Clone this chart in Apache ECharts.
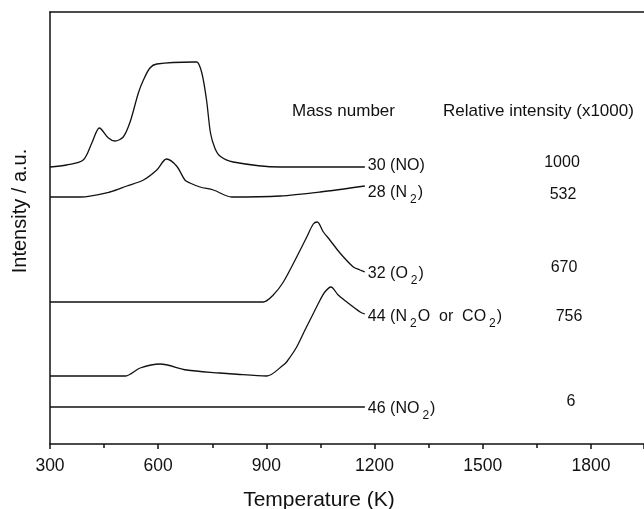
<!DOCTYPE html>
<html>
<head>
<meta charset="utf-8">
<script src="https://cdn.jsdelivr.net/npm/echarts@6/dist/echarts.min.js"></script>
<style>
html, body { margin: 0; padding: 0; background: #fff; }
#main { width: 644px; height: 509px; }
</style>
</head>
<body>
<div id="main"></div>
<script>
// temperature (K) / intensity (a.u., curves offset vertically)
var tNO = [300, 346, 392, 416, 437, 462, 480, 503, 522, 545, 559, 577, 596, 697, 707, 721, 734, 745, 757, 771, 808, 938, 1173]
var iNO = [277, 279, 284, 301, 316, 306, 303, 307, 322, 351, 364, 376, 380, 382, 382, 371, 344, 311, 296, 288, 282, 277, 277]

var tN2 = [300, 383, 466, 513, 559, 596, 623, 651, 674, 688, 716, 753, 804, 938, 1049, 1173]
var iN2 = [247, 247, 252, 258, 264, 274, 285, 278, 264, 261, 257, 254, 247, 248, 252, 258]

var tO2 = [300, 891, 919, 947, 984, 1012, 1030, 1041, 1058, 1076, 1104, 1141, 1160, 1173]
var iO2 = [142, 142, 149, 162, 187, 207, 220, 222, 212, 204, 191, 177, 174, 172]

var tN2O = [300, 508, 550, 605, 679, 771, 808, 901, 947, 956, 984, 1007, 1021, 1049, 1062, 1079, 1099, 1123, 1160, 1173]
var iN2O = [68, 68, 76, 80, 74, 71, 70, 68, 79, 82, 97, 114, 124, 144, 152, 157, 149, 142, 132, 130]

var tNO2 = [300, 1173]
var iNO2 = [37, 37]

// labels at the end of each curve (mass number)
var massLabels = [
  '{m|30 (NO)}',
  '{m|28 (N}{s|2}{m|)}',
  '{m|32 (O}{s|2}{m|)}',
  '{m|44 (N}{s|2}{m|O  or  CO}{s|2}{m|)}',
  '{m|46 (NO}{s|2}{m|)}'
]
var labelShift = [-1.5, 7, 1.5, 3, 1.5]
// relative intensity (x1000)
var relIntensity = ['1000', '532', '670', '756', '6']
var relPos = [[562, 163], [563, 195], [564, 268], [569, 317], [571, 402]]

var font = 'Liberation Sans, Arial, sans-serif'
var curves = [[tNO, iNO], [tN2, iN2], [tO2, iO2], [tN2O, iN2O], [tNO2, iNO2]]

function pairs(t, v) {
  var out = []
  for (var i = 0; i < t.length; i++) out.push([t[i], v[i]])
  return out
}

var myChart = echarts.init(document.getElementById('main'))

var series = curves.map(function (c, k) {
  return {
    type: 'line',
    data: pairs(c[0], c[1]),
    smooth: 0.3,
    showSymbol: false,
    lineStyle: { color: '#111', width: 1.3 },
    endLabel: {
      show: true,
      formatter: massLabels[k],
      distance: 3,
      offset: [0, labelShift[k]],
      fontFamily: font,
      rich: {
        m: { fontSize: 16, color: '#111', lineHeight: 26, fontFamily: font },
        s: { fontSize: 12, color: '#111', verticalAlign: 'bottom', padding: [0, 1, 0, 3], fontFamily: font }
      }
    }
  }
})

var texts = [
  { type: 'text', x: 292, y: 111, style: { text: 'Mass number', font: '17px ' + font, fill: '#111', verticalAlign: 'middle' } },
  { type: 'text', x: 443, y: 111, style: { text: 'Relative intensity (x1000)', font: '17px ' + font, fill: '#111', verticalAlign: 'middle' } },
  { type: 'text', x: 319, y: 500, style: { text: 'Temperature (K)', font: '21px ' + font, fill: '#111', align: 'center', verticalAlign: 'middle' } },
  { type: 'text', x: 20, y: 211, rotation: Math.PI / 2, style: { text: 'Intensity / a.u.', font: '20px ' + font, fill: '#111', align: 'center', verticalAlign: 'middle' } }
]
relIntensity.forEach(function (v, k) {
  texts.push({ type: 'text', x: relPos[k][0], y: relPos[k][1], style: { text: v, font: '16px ' + font, fill: '#111', align: 'center', verticalAlign: 'middle' } })
})

var axisLine = { show: true, lineStyle: { color: '#111', width: 1.5 } }

var option = {
  animation: false,
  backgroundColor: '#fff',
  grid: { left: 50, right: 0, top: 12, bottom: 65 },
  xAxis: [
    {
      type: 'value',
      min: 300,
      max: 1947,
      interval: 300,
      axisLine: axisLine,
      axisTick: { show: true, inside: false, length: 5, lineStyle: { color: '#111', width: 1.5 } },
      minorTick: { show: true, splitNumber: 2, length: 4, lineStyle: { color: '#111', width: 1.5 } },
      splitLine: { show: false },
      axisLabel: {
        margin: 13, fontSize: 17.5, color: '#111', fontFamily: font, showMaxLabel: false,
        formatter: function (v) { return String(v) }
      },
      position: 'bottom'
    },
    {
      type: 'value',
      min: 300,
      max: 1947,
      position: 'top',
      axisLine: axisLine,
      axisTick: { show: false },
      axisLabel: { show: false },
      splitLine: { show: false }
    }
  ],
  yAxis: {
    type: 'value',
    min: 0,
    max: 432,
    axisLine: axisLine,
    axisTick: { show: false },
    axisLabel: { show: false },
    splitLine: { show: false }
  },
  graphic: texts,
  series: series
}

myChart.setOption(option)
</script>
</body>
</html>
